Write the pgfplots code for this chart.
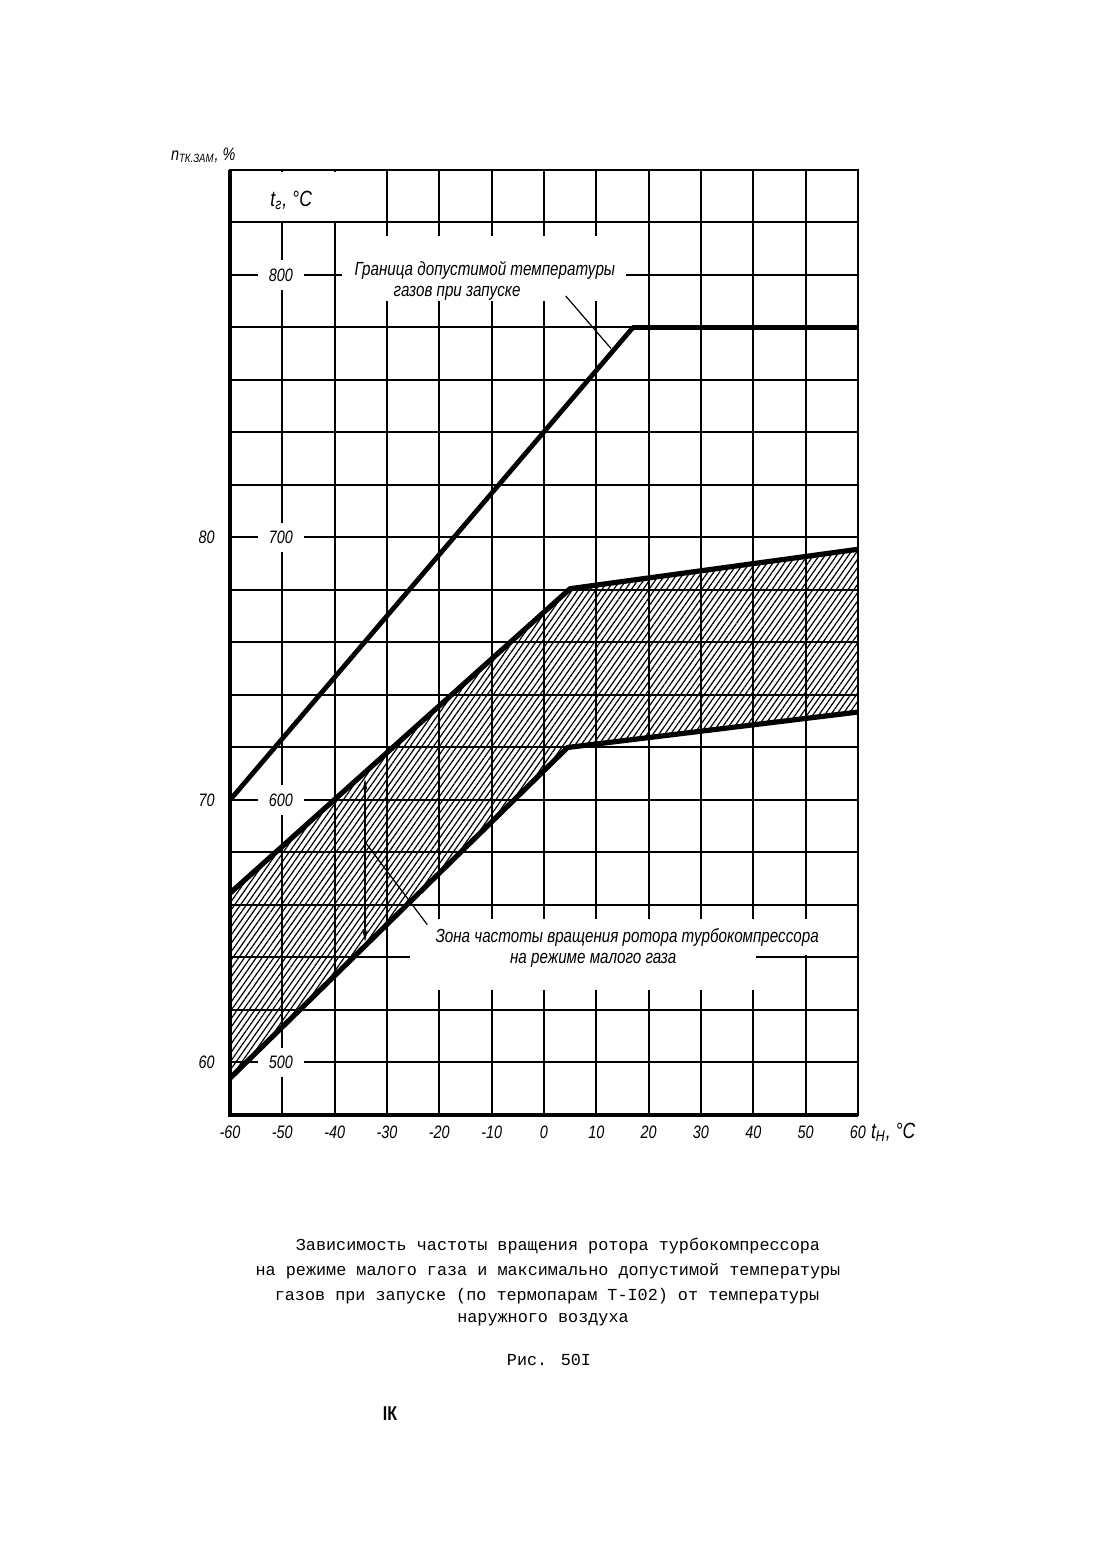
\documentclass[border=0pt]{standalone}
\usepackage{fontspec}
\usepackage{pgfplots}
\pgfplotsset{compat=1.18}
\usetikzlibrary{patterns.meta,arrows.meta}
\newfontfamily\gost[FakeStretch=0.8]{Liberation Sans}
\newfontfamily\mono{Liberation Mono}
\newcommand\gf[1]{\gost\itshape\fontsize{#1}{#1}\selectfont}
\begin{document}
\begin{tikzpicture}
\useasboundingbox (0,0) rectangle (555pt,779pt);
\begin{axis}[
  at={(115pt,221.5pt)}, anchor=south west,
  scale only axis, width=314pt, height=472.5pt,
  xmin=-60, xmax=60, ymin=58, ymax=94,
  xtick={-60,-50,...,60},
  xticklabels={-60,-50,-40,-30,-20,-10,0,10,20,30,40,50,60},
  ytick={58,60,...,94}, yticklabels={},
  extra y ticks={60,70,80}, extra y tick labels={60,70,80},
  grid=major, major grid style={black, line width=1pt},
  major tick length=0pt,
  axis line style={draw=none},
  xticklabel style={font=\gf{9}, anchor=north, inner sep=0pt, yshift=-5.5pt},
  yticklabel style={font=\gf{9}, anchor=east, inner sep=0pt, xshift=-7.5pt},
  clip=false,
]
% white-outs of the grid around texts
\fill[white] (axis cs:-59.7,92.06) rectangle (axis cs:-30.3,93.94);
\fill[white] (axis cs:-38.6,89.0) rectangle (axis cs:15.7,91.5);
\fill[white] (axis cs:-54.7,89.43) rectangle (axis cs:-45.9,90.57);
\fill[white] (axis cs:-54.7,79.43) rectangle (axis cs:-45.9,80.57);
\fill[white] (axis cs:-54.7,69.43) rectangle (axis cs:-45.9,70.57);
\fill[white] (axis cs:-54.7,59.43) rectangle (axis cs:-45.9,60.57);
\fill[white] (axis cs:-25.6,64.08) rectangle (axis cs:53.5,65.47);
\fill[white] (axis cs:-25.6,62.75) rectangle (axis cs:40.5,64.08);
% hatched zone
\addplot[draw=none, pattern={Lines[angle=55,distance=2.4pt,line width=0.6pt]}]
  coordinates {(-60,66.45) (5,78.05) (60,79.55) (60,73.35) (4.5,72.0) (-60,59.4)} -- cycle;
% boundary of permissible gas temperature
\addplot[black, line width=2.4pt, line join=round] coordinates {(-60,70) (17,88) (60,88)};
% zone bounds
\addplot[black, line width=2.6pt, line join=round] coordinates {(-60,66.45) (5,78.05) (60,79.55)};
\addplot[black, line width=2.6pt, line join=round] coordinates {(-60,59.4) (4.5,72.0) (60,73.35)};
% arrow and leaders
\draw[{Stealth[length=6pt,width=2.6pt]}-{Stealth[length=6pt,width=2.6pt]}, line width=0.6pt]
  (axis cs:-34.2,70.8) -- (axis cs:-34.2,64.6);
\draw[line width=0.6pt] (axis cs:4.15,89.2) -- (axis cs:12.8,87.2);
\draw[line width=0.6pt] (axis cs:-22.3,65.25) -- (axis cs:-34.2,68.4);
% texts
\node[font=\gf{9.5}] at (axis cs:-11.3,90.17) {Граница допустимой температуры};
\node[font=\gf{9.5}] at (axis cs:-16.6,89.3) {газов при запуске};
\node[font=\gf{9.5}] at (axis cs:15.9,64.75) {Зона частоты вращения ротора турбокомпрессора};
\node[font=\gf{9.5}] at (axis cs:9.4,63.9) {на режиме малого газа};
\node[font=\gf{9}] at (axis cs:-50.3,90) {800};
\node[font=\gf{9}] at (axis cs:-50.3,80) {700};
\node[font=\gf{9}] at (axis cs:-50.3,70) {600};
\node[font=\gf{9}] at (axis cs:-50.3,60) {500};
\node[font=\gf{11}] at (axis cs:-48.3,92.84) {t\textsubscript{г}, °C};
% frame
\draw[line width=1pt] (rel axis cs:0,0) rectangle (rel axis cs:1,1);
\draw[line width=1.8pt] (rel axis cs:0,1) -- (rel axis cs:0,0) -- (rel axis cs:1,0);
\end{axis}
\node[anchor=west, font=\gf{9}] at (82pt,701.5pt) {n\textsubscript{ТК.ЗАМ}, \%};
\node[anchor=west, font=\gf{11}] at (432pt,213pt) {t\textsubscript{Н}, °C};
\begin{scope}[every node/.style={font=\mono\fontsize{8.4}{10}\selectfont, inner sep=0pt}]
\node at (279pt,156pt) {Зависимость частоты вращения ротора турбокомпрессора};
\node at (274pt,143.5pt) {на режиме малого газа и максимально допустимой температуры};
\node at (273.5pt,131pt) {газов при запуске (по термопарам Т-I02) от температуры};
\node at (271.5pt,119pt) {наружного воздуха};
\node at (274.5pt,99pt) {Рис. 50I};
\end{scope}
\node[font=\gost\bfseries\fontsize{10}{10}\selectfont] at (195pt,72pt) {IК};
\end{tikzpicture}
\end{document}
